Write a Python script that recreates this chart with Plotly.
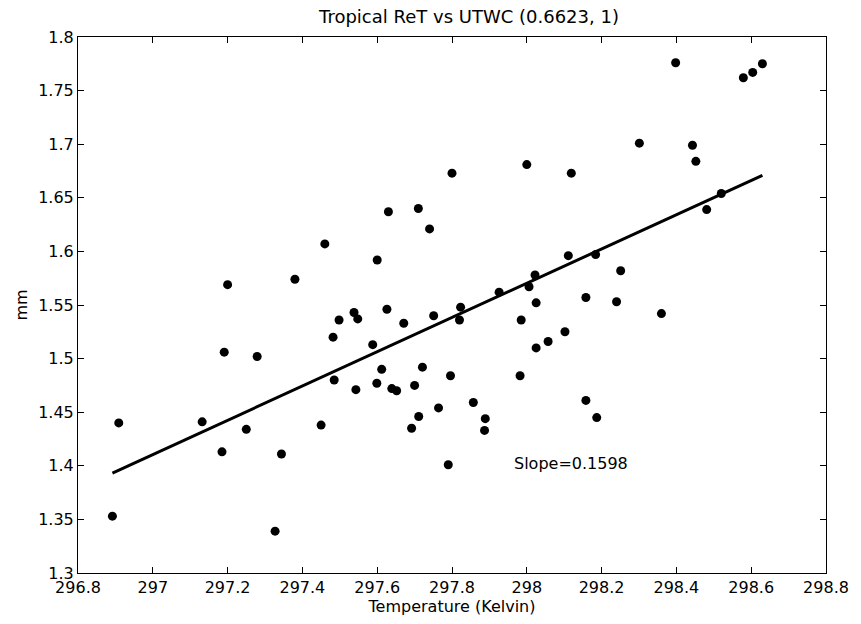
import numpy as np
import plotly.graph_objects as go

# Data
temperature_k = [
    296.892, 296.909, 297.132, 297.185, 297.191, 297.200, 297.250, 297.279,
    297.327, 297.344, 297.380, 297.450, 297.460, 297.482, 297.485, 297.498,
    297.538, 297.548, 297.543, 297.588, 297.599, 297.600, 297.612, 297.626,
    297.630, 297.639, 297.652, 297.671, 297.692, 297.700, 297.711, 297.710,
    297.721, 297.740, 297.751, 297.764, 297.790, 297.796, 297.800, 297.820,
    297.823, 297.857, 297.889, 297.887, 297.926, 297.982, 297.985, 298.000,
    298.006, 298.022, 298.025, 298.025, 298.057, 298.102, 298.111, 298.119,
    298.158, 298.158, 298.184, 298.187, 298.240, 298.251, 298.301, 298.360,
    298.398, 298.443, 298.452, 298.481, 298.520, 298.579, 298.604, 298.630,
]
utwc_mm = [
    1.353, 1.440, 1.441, 1.413, 1.506, 1.569, 1.434, 1.502,
    1.339, 1.411, 1.574, 1.438, 1.607, 1.520, 1.480, 1.536,
    1.543, 1.537, 1.471, 1.513, 1.477, 1.592, 1.490, 1.546,
    1.637, 1.472, 1.470, 1.533, 1.435, 1.475, 1.446, 1.640,
    1.492, 1.621, 1.540, 1.454, 1.401, 1.484, 1.673, 1.536,
    1.548, 1.459, 1.444, 1.433, 1.562, 1.484, 1.536, 1.681,
    1.567, 1.578, 1.552, 1.510, 1.516, 1.525, 1.596, 1.673,
    1.461, 1.557, 1.597, 1.445, 1.553, 1.582, 1.701, 1.542,
    1.776, 1.699, 1.684, 1.639, 1.654, 1.762, 1.767, 1.775,
]
slope_value = 0.1598

x_tick_vals = [296.8, 297.0, 297.2, 297.4, 297.6, 297.8, 298.0, 298.2, 298.4, 298.6, 298.8]
x_tick_text = ["296.8", "297", "297.2", "297.4", "297.6", "297.8", "298", "298.2", "298.4", "298.6", "298.8"]
y_tick_vals = [1.3, 1.35, 1.4, 1.45, 1.5, 1.55, 1.6, 1.65, 1.7, 1.75, 1.8]
y_tick_text = ["1.3", "1.35", "1.4", "1.45", "1.5", "1.55", "1.6", "1.65", "1.7", "1.75", "1.8"]

title_text = "Tropical ReT vs UTWC (0.6623, 1)"
x_title = "Temperature (Kelvin)"
y_title = "mm"

# Regression line with the stated slope, through the mean of the data
tx = np.array(temperature_k)
uy = np.array(utwc_mm)
intercept = uy.mean() - slope_value * tx.mean()
line_x = np.array([tx.min(), tx.max()])
line_y = intercept + slope_value * line_x

FONT = "DejaVu Sans, Liberation Sans, Arial, sans-serif"

fig = go.Figure()
fig.add_trace(go.Scatter(
    x=temperature_k, y=utwc_mm, mode="markers",
    marker=dict(color="black", size=9, line=dict(width=0)),
    showlegend=False,
))
fig.add_trace(go.Scatter(
    x=line_x, y=line_y, mode="lines",
    line=dict(color="black", width=3),
    showlegend=False,
))

fig.add_annotation(
    x=297.96, y=1.402, xref="x", yref="y", text="Slope=%.4f" % slope_value,
    showarrow=False, xanchor="left", yanchor="middle",
    font=dict(family=FONT, size=16, color="black"),
)

fig.update_layout(
    width=861, height=624,
    margin=dict(l=78, r=32, t=37, b=51),
    paper_bgcolor="white", plot_bgcolor="white",
    font=dict(family=FONT, size=16, color="black"),
    title=dict(text=title_text, x=469 / 861, xanchor="center", xref="container",
               y=1 - 17 / 624, yanchor="middle", yref="container",
               font=dict(family=FONT, size=18, color="black")),
)

fig.update_xaxes(
    range=[296.8, 298.8], tickmode="array", tickvals=x_tick_vals, ticktext=x_tick_text,
    ticks="inside", ticklen=6, tickcolor="black", showline=True, linecolor="black",
    linewidth=1, mirror="ticks", showgrid=False, zeroline=False,
    title=dict(text=x_title, standoff=2, font=dict(family=FONT, size=16)),
)
fig.update_yaxes(
    range=[1.3, 1.8], tickmode="array", tickvals=y_tick_vals, ticktext=y_tick_text,
    ticks="inside", ticklen=6, tickcolor="black", showline=True, linecolor="black",
    linewidth=1, mirror="ticks", showgrid=False, zeroline=False,
    title=dict(text=y_title, standoff=6, font=dict(family=FONT, size=16)),
)

fig.write_html("out.html")
